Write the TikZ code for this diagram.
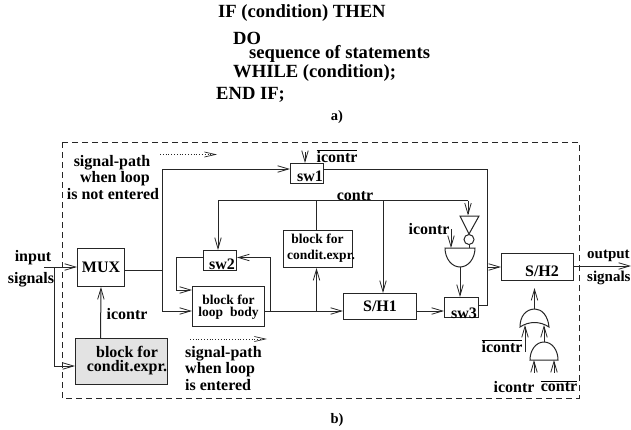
\documentclass[tikz,border=0pt]{standalone}
\usepackage{fontspec}
\setmainfont{Liberation Serif}
\usetikzlibrary{arrows.meta}
\tikzset{
  x=1pt,y=-1pt,
  wire/.style={line width=1pt,draw=black!85},
  arr/.style={wire,-{Straight Barb[length=11pt,width=6.5pt,line width=0.8pt]}},
  box/.style={draw=black!85,line width=1pt,inner sep=0pt,anchor=north west,font=\fontsize{16}{16}\bfseries},
  txt/.style={inner sep=0pt,font=\fontsize{16}{16}\bfseries},
  toptxt/.style={inner sep=0pt,anchor=west,font=\fontsize{18.6}{18.6}\bfseries},
  smalltxt/.style={inner sep=0pt,font=\fontsize{13.5}{13.5}\bfseries},
  captxt/.style={inner sep=0pt,font=\fontsize{14.5}{14.5}\bfseries},
  lefttxt/.style={txt,anchor=west},
  edgetxt/.style={inner sep=0pt,anchor=west,font=\fontsize{15}{15}\bfseries},
  dotarr/.style={line width=0.8pt,dotted,draw=black!85,-{Straight Barb[length=11pt,width=5pt,line width=0.7pt,line cap=butt]}},
}
\newcommand{\wbox}[6][]{\node[box,minimum width=#4pt,minimum height=#5pt,#1] (#2) at #3 {#6};}
\begin{document}
\begin{tikzpicture}
\useasboundingbox (0,0) rectangle (631,429);
% part a)
\node[toptxt] (l1) at (218,13) {IF (condition) THEN};
\node[toptxt,align=left,font=\fontsize{18.6}{14}\bfseries] (l2) at (233,47) {DO\\\hspace*{16pt}sequence of statements};
\node[toptxt] (l4) at (233,73) {WHILE (condition);};
\node[toptxt] (l5) at (216,95) {END IF;};
\node[captxt] (capa) at (337,117) {a)};
% frame
\draw[dashed,line width=0.8pt,dash pattern=on 6pt off 4pt,draw=black!85] (62,142) rectangle (579,398);
% boxes
\wbox{mux}{(77,248)}{47}{38}{MUX}
\wbox[fill=black!11]{cond}{(75,338)}{92}{46}{}
\wbox{swtwo}{(203,250)}{33}{20}{}
\wbox{loop}{(192,286)}{72}{40}{}
\wbox{condb}{(283,230)}{69}{37}{}
\wbox{swone}{(290,163)}{33}{20}{}
\wbox{shone}{(343,293)}{73}{26}{S/H1}
\wbox{swthree}{(444,297)}{34}{20}{}
\wbox{shtwo}{(501,253)}{72}{27}{}
% box texts
\node[txt,align=center,font=\fontsize{16}{14}\bfseries] (t1) at (127,361) {block for\\condit.expr.};
\node[txt] (t3) at (222,264) {sw2};
\node[smalltxt,align=center,font=\fontsize{13.5}{12}\bfseries] (t4) at (228.5,307) {block for\\loop\ \ body};
\node[smalltxt] (t6) at (317.5,239) {block for};
\node[smalltxt] (t7) at (321,256) {condit.expr.};
\node[txt] (t8) at (310,176) {sw1};
\node[txt] (t9) at (464,313) {sw3};
\node[txt] (t10) at (542,271) {S/H2};
% labels
\node[txt] (n1) at (112,163) {signal-path};
\node[txt] (n2) at (115,179) {when loop};
\node[txt] (n3) at (113,194) {is not entered};
\node[txt] (n4) at (33,258) {input};
\node[txt] (n5) at (31,280) {signals};
\node[txt] (n6) at (127,314) {icontr};
\node[lefttxt] (n7) at (185,354) {signal-path};
\node[lefttxt] (n8) at (185,370) {when loop};
\node[lefttxt] (n9) at (185,385) {is entered};
\node[txt] (n10) at (337,156) {$\overline{\mbox{icontr}}$};
\node[txt] (n11) at (355,196) {contr};
\node[txt] (n12) at (429,229) {icontr};
\node[edgetxt] (n13) at (587,256) {output};
\node[edgetxt] (n14) at (587,278) {signals};
\node[txt] (n15) at (502,346) {$\overline{\mbox{icontr}}$};
\node[txt] (n16) at (514,387) {icontr};
\node[txt] (n17) at (559,386) {$\overline{\mbox{contr}}$};
\node[captxt] (capb) at (337,420) {b)};
% dotted arrows
\coordinate (da1) at (160,154.5); \coordinate (da2) at (217,154.5);
\coordinate (db1) at (190,339); \coordinate (db2) at (267,339);
\draw[dotarr] (da1) -- (da2);
\draw[dotarr] (db1) -- (db2);
% junctions
\coordinate (in) at (44,267);
\coordinate (inj) at (54,267);
\coordinate (cy) at (54,366);
\coordinate (j1) at (162,270);
\coordinate (j2) at (270,311);
\coordinate (j3) at (316.5,311);
\coordinate (j4) at (383,200.5);
\coordinate (j5) at (316.5,200.5);
\coordinate (ctop) at (218,200.5);
\coordinate (cend) at (468,200.5);
\coordinate (r1) at (487,169);
\coordinate (r2) at (487,305);
\coordinate (r3) at (176,257.5);
\coordinate (r4) at (176,290);
\coordinate (ic) at (100.5,338);
\coordinate (swin) at (305,152);
\coordinate (shin) at (488,267);
\coordinate (shout) at (631,266);
\coordinate (andout) at (460,267);
% connectors
\draw[arr] (in) -- (mux.west |- in);
\draw[arr] (inj) |- (cond.west |- cy);
\draw[arr] (ic) -- (mux.south);
\draw[wire] (mux.east |- j1) -- (j1);
\draw[arr] (j1) |- (swone.west |- r1);
\draw[arr] (j1) |- (loop.west |- j2);
\draw[arr] (swtwo.west |- r3) -- (r3) -- (r4) -- (loop.west |- r4);
\draw[arr] (loop.east |- j2) -- (shone.west |- j2);
\draw[arr] (j2) |- (swtwo.east |- r3);
\draw[arr] (j3) -- (j3 |- condb.south);
\draw[wire] (j3 |- condb.north) -- (j5);
\draw[arr] (cend) -- ++(0,15);
\draw[arr] (cend) -- (ctop) -- (ctop |- swtwo.north);
\draw[arr] (j4) -- (j4 |- shone.north);
\draw[arr] (swin) -- (swin |- swone.north);
\draw[wire] (swone.east |- r1) -- (r1) -- (r2) -- (swthree.east |- r2);
\draw[arr] (shin) -- (shtwo.west |- shin);
\draw[arr] (shone.east |- j2) -- (swthree.west |- j2);
\draw[arr] (shtwo.east |- shout) -- (shout);
% inverter and AND before sw3
\draw[wire] (460,216) -- (479,216) -- (469,234) -- cycle;
\node[draw=black!85,line width=1pt,circle,minimum size=10pt,inner sep=0pt] (bub) at (469,239.5) {};
\coordinate (bubin) at (469,248);
\draw[wire] (bub.south) -- (bubin);
\draw[wire] (445,248) -- (475,248) arc[start angle=0,end angle=-180,x radius=15,y radius=-19] -- cycle;
\draw[arr] (451,229) -- (451,248);
\draw[arr] (andout) -- (andout |- swthree.north);
% gates before S/H2
\draw[wire] (520,327) .. controls (520,316) and (526,309) .. (535,309) .. controls (542,309) and (548,316) .. (549,327) .. controls (540,321) and (529,321) .. (520,327) -- cycle;
\draw[wire] (530,360) -- (558,360) .. controls (558,350) and (552,342) .. (544,342) .. controls (536,342) and (530,350) .. (530,360) -- cycle;
\draw[arr] (534.5,309) -- (534.5,288);
\draw[arr] (544,342) -- (544,325);
\draw[arr] (525,352) -- (525,325);
\draw[arr] (534,373) -- (534,360);
\draw[arr] (554,373) -- (554,360);
\end{tikzpicture}
\end{document}
